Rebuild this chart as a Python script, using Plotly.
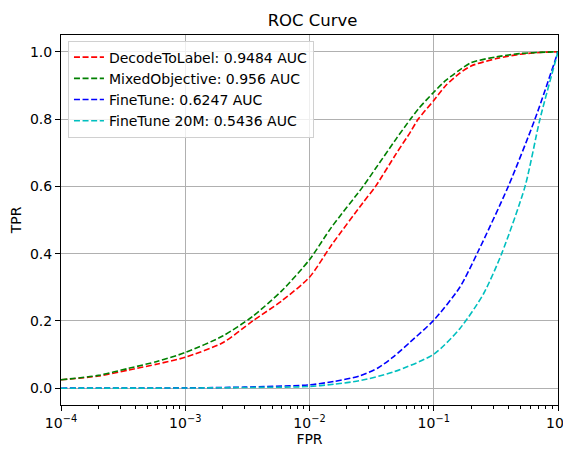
import plotly.graph_objects as go

# ---- data ----
fpr_a = [1e-4, 2e-4, 3.5e-4, 6e-4, 1e-3, 2e-3, 3.5e-3, 6e-3, 1e-2, 1.5e-2, 2.7e-2,
         3.4e-2, 5e-2, 6.5e-2, 7.5e-2, 0.1, 0.125, 0.16, 0.2, 0.32, 0.5, 0.8, 1.0]
tpr_decode = [0.025, 0.036, 0.054, 0.072, 0.092, 0.135, 0.2, 0.26, 0.33, 0.425, 0.552,
              0.6, 0.698, 0.762, 0.8, 0.855, 0.9, 0.935, 0.958, 0.98, 0.993, 0.999, 1.0]
tpr_mixed = [0.025, 0.038, 0.059, 0.08, 0.106, 0.155, 0.214, 0.29, 0.382, 0.478, 0.6,
             0.653, 0.742, 0.8, 0.83, 0.88, 0.915, 0.945, 0.968, 0.985, 0.995, 0.999, 1.0]

fpr_ft = [1e-4, 1e-3, 3e-3, 1e-2, 1.58e-2, 2.51e-2, 3.55e-2, 4.73e-2, 6.46e-2, 0.1,
          0.162, 0.23, 0.398, 0.653, 1.0]
tpr_finetune = [0.0, 0.001, 0.003, 0.01, 0.02, 0.036, 0.06, 0.093, 0.137, 0.202,
                0.30, 0.41, 0.60, 0.80, 1.0]

fpr_ft20 = [1e-4, 1e-3, 3e-3, 1e-2, 1.58e-2, 2.51e-2, 4.73e-2, 0.1, 0.162,
            0.251, 0.352, 0.543, 0.716, 1.0]
tpr_finetune20m = [0.0, 0.0005, 0.002, 0.005, 0.012, 0.022, 0.048, 0.101, 0.177,
                   0.28, 0.40, 0.60, 0.80, 1.0]

names = ["DecodeToLabel: 0.9484 AUC", "MixedObjective: 0.956 AUC",
         "FineTune: 0.6247 AUC", "FineTune 20M: 0.5436 AUC"]
colors = ["#ff0000", "#008000", "#0000ff", "#00bfbf"]

x_tickvals = [1e-4, 1e-3, 1e-2, 1e-1, 1]
x_ticktext = ["10<sup>−4</sup>", "10<sup>−3</sup>", "10<sup>−2</sup>",
              "10<sup>−1</sup>", "10<sup>0</sup>"]
y_tickvals = [0.0, 0.2, 0.4, 0.6, 0.8, 1.0]

series = [(fpr_a, tpr_decode), (fpr_a, tpr_mixed),
          (fpr_ft, tpr_finetune), (fpr_ft20, tpr_finetune20m)]

fig = go.Figure()
for (xs, ys), nm, c in zip(series, names, colors):
    fig.add_trace(go.Scatter(x=xs, y=ys, mode="lines", name=nm,
                             line=dict(color=c, width=1.6, dash="6px,2.6px",
                                       shape="spline", smoothing=0.7)))

minor_vals = [m * 10 ** e for e in range(-4, 0) for m in range(2, 10)]

font = "DejaVu Sans"
# the page body adds an 8px offset, so the figure is 8px smaller on each axis
fig.update_layout(
    width=563, height=443,
    margin=dict(l=53, r=13, t=27, b=46, autoexpand=False),
    paper_bgcolor="white", plot_bgcolor="white",
    font=dict(family=font, size=14, color="black"),
    title=dict(text="ROC Curve", x=0.541, xanchor="center", y=0.973, yanchor="middle",
               font=dict(size=16.5, family=font, color="black")),
    showlegend=True,
    legend=dict(x=0.014, y=0.985, xanchor="left", yanchor="top",
                bgcolor="rgba(255,255,255,0.8)", bordercolor="#d0d0d0", borderwidth=1,
                font=dict(size=14, family=font), tracegroupgap=0),
)
fig.update_xaxes(
    type="log", range=[-4, 0], automargin=False,
    tickvals=x_tickvals, ticktext=x_ticktext, tickfont=dict(size=14),
    ticks="outside", ticklen=5, tickcolor="black",
    showline=True, linecolor="black", linewidth=1, mirror=True,
    showgrid=True, gridcolor="#b0b0b0", gridwidth=1, zeroline=False,
    minor=dict(tickvals=minor_vals, ticks="outside", ticklen=3, tickcolor="black", showgrid=False),
    title=dict(text="FPR", font=dict(size=14, family=font), standoff=4),
)
fig.update_yaxes(
    range=[-0.05, 1.05], tickvals=y_tickvals, tickformat=".1f", automargin=False,
    tickfont=dict(size=14),
    ticks="outside", ticklen=5, tickcolor="black",
    showline=True, linecolor="black", linewidth=1, mirror=True,
    showgrid=True, gridcolor="#b0b0b0", gridwidth=1, zeroline=False,
    title=dict(text="TPR", font=dict(size=14, family=font), standoff=6),
)

fig.write_html("out.html")
